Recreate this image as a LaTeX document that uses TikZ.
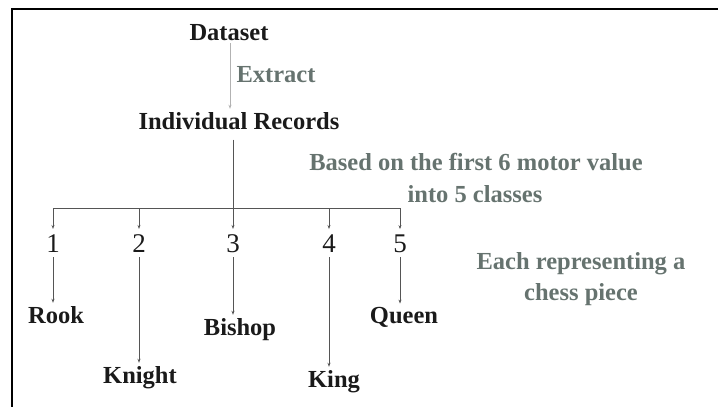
\documentclass[tikz,border=0pt]{standalone}
\usepackage{fontspec}
\setmainfont{Liberation Serif}
\usetikzlibrary{arrows.meta}
\definecolor{notegray}{HTML}{66736F}
\definecolor{inkblack}{HTML}{1A1A1A}
\definecolor{wiregray}{HTML}{555555}
\tikzset{
  title/.style={font=\bfseries\fontsize{24.5}{26}\selectfont, text=inkblack, anchor=base, inner sep=3pt},
  note/.style={font=\bfseries\fontsize{24.5}{26}\selectfont, text=notegray, anchor=base, inner sep=3pt},
  num/.style={font=\fontsize{27}{29}\selectfont, text=inkblack, anchor=base, inner sep=5pt},
  wire/.style={draw=wiregray, line width=0.8pt},
  arr/.style={wire, -{Stealth[length=4pt,width=3pt]}},
}
\begin{document}
\begin{tikzpicture}[x=1pt,y=-1pt]
\useasboundingbox (0,0) rectangle (718,407);
% frame edges
\draw[line width=1.3pt] (12,407) -- (12,9) -- (718,9);

% top of the tree
\node[title] (ds)  at (229,40)  {Dataset};
\node[note]  (ext) at (276,82)  {Extract};
\node[title] (rec) at (239,129) {Individual Records};
\draw[arr, draw=gray!60] (ds.south -| 230,0) -- (rec.north -| 230,0);

% split into classes
\node[note, align=center] (split) at (476,170) {Based on the first 6 motor value};
\node[note] (split2) at (475,202) {into 5 classes};

\node[num] (n1) at (53,252)  {1};
\node[num] (n2) at (139,252) {2};
\node[num] (n3) at (233,252) {3};
\node[num] (n4) at (329,252) {4};
\node[num] (n5) at (400,252) {5};

\coordinate (hL) at (53,208);
\coordinate (hR) at (400,208);
\draw[wire] (hL) -- (hR);
\draw[wire, shorten <=7pt] (rec.south -| n3) -- (n3 |- hL);
\foreach \i in {1,...,5} {
  \draw[arr] (n\i |- hL) -- (n\i.north);
}

% chess pieces
\node[title] (rook)   at (56,323)  {Rook};
\node[title] (knight) at (140,383) {Knight};
\node[title] (bishop) at (240,335) {Bishop};
\node[title] (king)   at (334,387) {King};
\node[title] (queen)  at (404,323) {Queen};

\draw[arr] (n1.south) -- (n1 |- rook.north);
\draw[arr] (n2.south) -- (n2 |- knight.north);
\draw[arr] (n3.south) -- (n3 |- bishop.north);
\draw[arr] (n4.south) -- (n4 |- king.north);
\draw[arr] (n5.south) -- (n5 |- queen.north);

\node[note] (each)  at (581,269) {Each representing a};
\node[note] (chess) at (581,300) {chess piece};
\end{tikzpicture}
\end{document}
